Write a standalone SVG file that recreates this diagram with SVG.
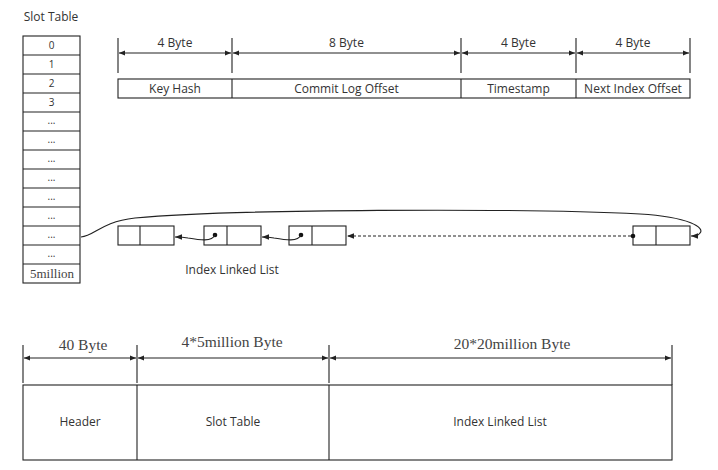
<svg xmlns="http://www.w3.org/2000/svg" width="718" height="470" viewBox="0 0 718 470">
<defs>
<style>
.s{font-family:"Open Sans","Noto Sans",sans-serif;font-size:12px;fill:#333;text-anchor:middle}
.t{font-family:"Open Sans","Noto Sans",sans-serif;font-size:10px;fill:#333;text-anchor:middle}
.g{font-family:"Liberation Serif",serif;font-size:15.5px;fill:#444;text-anchor:middle}
.b{fill:#fff;stroke:#222;stroke-width:1.1}
.l{fill:none;stroke:#222;stroke-width:1.1}
.d{fill:none;stroke:#222;stroke-width:1.1;marker-start:url(#ah);marker-end:url(#ah)}
</style>
<marker id="ah" viewBox="0 0 10 10" refX="10" refY="5" markerWidth="8" markerHeight="6" markerUnits="userSpaceOnUse" orient="auto-start-reverse">
<path d="M0,1 L10,5 L0,9 Z" fill="#222"/>
</marker>
<marker id="ae" viewBox="0 0 10 10" refX="10" refY="5" markerWidth="8" markerHeight="7" markerUnits="userSpaceOnUse" orient="auto">
<path d="M0,1 L10,5 L0,9 Z" fill="#222"/>
</marker>
</defs>
<rect width="718" height="470" fill="#fff"/>

<text class="s" x="51" y="21">Slot Table</text>

<g id="slot-table">
<rect class="b" x="23" y="36" width="57" height="247"/>
<path class="l" d="M23,55H80M23,74H80M23,93H80M23,112H80M23,131H80M23,150H80M23,169H80M23,188H80M23,207H80M23,226H80M23,245H80M23,264H80"/>
<text class="t" x="51.5" y="49">0</text>
<text class="t" x="51.5" y="68">1</text>
<text class="t" x="51.5" y="87">2</text>
<text class="t" x="51.5" y="106">3</text>
<text class="t" x="51.5" y="124">...</text>
<text class="t" x="51.5" y="143">...</text>
<text class="t" x="51.5" y="162">...</text>
<text class="t" x="51.5" y="181">...</text>
<text class="t" x="51.5" y="200">...</text>
<text class="t" x="51.5" y="219">...</text>
<text class="t" x="51.5" y="238">...</text>
<text class="t" x="51.5" y="257">...</text>
<text class="g" x="52" y="278" style="font-size:13px">5million</text>
</g>

<g id="index-entry">
<rect class="b" x="118" y="79" width="572" height="19"/>
<path class="l" d="M232,79V98M461,79V98M576,79V98"/>
<text class="s" x="175" y="93">Key Hash</text>
<text class="s" x="346.5" y="93">Commit Log Offset</text>
<text class="s" x="518.5" y="93">Timestamp</text>
<text class="s" x="633" y="93">Next Index Offset</text>
</g>

<g id="entry-dimensions">
<path class="l" d="M118,38V73M232,38V73M461,38V73M576,38V73M690,38V73"/>
<path class="d" d="M119,53H231"/>
<path class="d" d="M233,53H460"/>
<path class="d" d="M462,53H575"/>
<path class="d" d="M577,53H689"/>
<text class="s" x="175" y="47">4 Byte</text>
<text class="s" x="346.5" y="47">8 Byte</text>
<text class="s" x="518.5" y="47">4 Byte</text>
<text class="s" x="633" y="47">4 Byte</text>
</g>

<g id="list-node-1">
<rect class="b" x="118" y="226" width="56" height="19"/>
<path class="l" d="M140,226V245"/>
</g>
<g id="list-node-2">
<rect class="b" x="204" y="226" width="57" height="19"/>
<path class="l" d="M227,226V245"/>
<circle cx="215" cy="235" r="2.3" fill="#111"/>
</g>
<g id="list-node-3">
<rect class="b" x="289" y="226" width="57" height="19"/>
<path class="l" d="M312,226V245"/>
<circle cx="301" cy="235" r="2.3" fill="#111"/>
</g>
<g id="list-node-4">
<rect class="b" x="633" y="226" width="57" height="19"/>
<path class="l" d="M656,226V245"/>
<circle cx="633" cy="236" r="2.3" fill="#111"/>
</g>
<text class="s" x="232" y="274">Index Linked List</text>

<g id="connectors">
<path class="l" marker-end="url(#ae)" d="M215,235 C212,242 200,240 188,238 C183,237 180,237 175,237"/>
<path class="l" marker-end="url(#ae)" d="M301,235 C298,242 286,240 274,238 C269,237 266,237 262,237"/>
<path class="l" stroke-dasharray="3,2" marker-end="url(#ae)" d="M631,236H347"/>
<path class="l" marker-end="url(#ae)" d="M81,237 C95,236 100,222 135,218 C230,209 520,208 640,214 C690,217 705,228 700,233 C698,236 696,236 691,236"/>
</g>

<g id="file-layout">
<rect class="b" x="23" y="385" width="649" height="75"/>
<path class="l" d="M137,385V460"/>
<path class="l" d="M329,385V460"/>
<text class="s" x="80" y="426">Header</text>
<text class="s" x="233" y="426">Slot Table</text>
<text class="s" x="500" y="426">Index Linked List</text>
</g>

<g id="file-dimensions">
<path class="l" d="M23,345V383M137,345V383M329,345V383M672,345V385"/>
<path class="d" d="M24,358H136"/>
<path class="d" d="M138,358H328"/>
<path class="d" d="M330,358H671"/>
<text class="g" x="83" y="350">40 Byte</text>
<text class="g" x="232" y="347">4*5million Byte</text>
<text class="g" x="512" y="349">20*20million Byte</text>
</g>
</svg>
